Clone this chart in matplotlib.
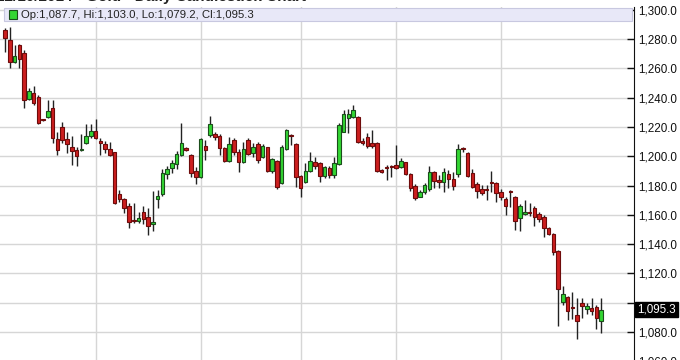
"""
Gold - grafico diario de velas
"""

import matplotlib
matplotlib.use('Agg')
import matplotlib.pyplot as plt
from matplotlib.patches import Rectangle
from matplotlib.ticker import FuncFormatter, MultipleLocator

plt.rcParams['font.family'] = ['Liberation Sans', 'DejaVu Sans']

# Datos OHLC
opens = [1286.3, 1279.5, 1264.3, 1276.0, 1270.4, 1239.0, 1243.1, 1240.4, 1225.0, 1226.7,
         1232.8, 1211.8, 1219.8, 1211.8, 1206.2, 1204.3, 1204.3, 1208.9, 1213.9, 1217.1,
         1210.3, 1208.4, 1204.8, 1202.8, 1174.3, 1170.7, 1166.1, 1155.8, 1156.0, 1161.8,
         1158.3, 1153.8, 1170.7, 1174.1, 1187.8, 1191.9, 1194.5, 1200.9, 1205.9, 1200.9,
         1190.0, 1185.7, 1207.1, 1214.6, 1215.0, 1214.1, 1205.5, 1197.0, 1211.2, 1202.8,
         1196.0, 1211.2, 1202.0, 1208.4, 1199.3, 1206.2, 1190.1, 1197.0, 1181.5, 1205.0,
         1214.3, 1208.4, 1186.8, 1182.3, 1190.0, 1196.4, 1195.3, 1186.8, 1191.9, 1187.3,
         1194.5, 1216.9, 1226.0, 1227.1, 1226.7, 1210.5, 1213.0, 1209.3, 1208.9, 1190.7,
         1192.4, 1193.1, 1194.0, 1193.0, 1196.0, 1188.0, 1179.8, 1172.5, 1175.9, 1177.7,
         1189.0, 1183.8, 1182.3, 1187.6, 1184.5, 1187.6, 1204.9, 1202.0, 1188.4, 1181.1,
         1177.7, 1177.1, 1182.1, 1182.0, 1175.5, 1170.7, 1176.1, 1172.5, 1157.7, 1160.6,
         1161.6, 1165.0, 1160.4, 1158.8, 1150.8, 1147.0, 1135.3, 1100.7, 1103.7, 1096.3,
         1091.6, 1099.6, 1095.7, 1096.6, 1097.3, 1087.7]
highs = [1287.5, 1288.2, 1276.0, 1276.8, 1272.7, 1246.5, 1248.0, 1241.9, 1225.3, 1238.5,
         1238.5, 1216.9, 1223.3, 1216.9, 1213.9, 1206.6, 1215.0, 1222.1, 1222.1, 1225.5,
         1212.3, 1210.5, 1210.0, 1203.2, 1177.0, 1171.8, 1168.4, 1168.4, 1162.2, 1166.1,
         1164.5, 1176.5, 1177.0, 1191.2, 1193.4, 1197.5, 1203.6, 1222.6, 1206.6, 1201.4,
         1192.9, 1212.3, 1211.2, 1227.6, 1216.9, 1215.0, 1206.6, 1213.4, 1212.8, 1205.0,
         1210.0, 1212.8, 1208.9, 1210.0, 1208.2, 1206.6, 1198.7, 1197.5, 1207.7, 1218.5,
         1215.0, 1208.9, 1187.3, 1195.3, 1202.8, 1199.8, 1196.4, 1193.4, 1193.4, 1199.8,
         1222.6, 1231.7, 1232.4, 1235.1, 1227.8, 1212.8, 1215.7, 1218.0, 1210.0, 1191.2,
         1194.0, 1194.0, 1207.7, 1198.7, 1196.4, 1188.4, 1180.9, 1177.0, 1181.6, 1193.6,
         1190.0, 1187.3, 1192.3, 1190.7, 1189.5, 1208.2, 1206.6, 1203.2, 1191.2, 1182.7,
         1180.4, 1180.4, 1190.0, 1182.7, 1177.7, 1172.4, 1177.0, 1173.1, 1167.2, 1170.2,
         1167.9, 1166.3, 1161.8, 1159.9, 1151.5, 1147.9, 1135.9, 1111.4, 1104.8, 1107.5,
         1103.0, 1103.4, 1099.6, 1103.0, 1098.4, 1103.0]
lows = [1271.5, 1260.6, 1263.6, 1260.6, 1232.8, 1238.5, 1235.0, 1222.1, 1224.0, 1226.0,
        1208.9, 1200.9, 1208.9, 1202.0, 1194.0, 1193.6, 1203.9, 1208.4, 1212.3, 1211.8,
        1200.9, 1202.0, 1200.2, 1167.5, 1169.0, 1161.1, 1150.8, 1154.2, 1154.2, 1153.8,
        1146.3, 1149.2, 1164.5, 1172.9, 1184.3, 1188.8, 1191.2, 1200.2, 1203.9, 1185.7,
        1181.1, 1185.0, 1197.5, 1213.4, 1211.2, 1200.9, 1196.4, 1196.4, 1200.9, 1189.0,
        1195.3, 1200.9, 1199.8, 1195.3, 1198.7, 1189.5, 1188.4, 1177.7, 1181.1, 1204.3,
        1207.7, 1179.3, 1172.4, 1181.6, 1189.5, 1191.4, 1182.3, 1185.0, 1185.4, 1185.4,
        1194.0, 1216.4, 1215.7, 1226.4, 1208.9, 1207.7, 1205.9, 1205.9, 1189.0, 1188.4,
        1183.8, 1186.1, 1191.4, 1191.9, 1187.3, 1176.5, 1170.2, 1172.0, 1174.3, 1176.5,
        1178.6, 1178.6, 1175.5, 1178.2, 1177.0, 1186.1, 1203.2, 1186.1, 1178.2, 1171.3,
        1173.6, 1170.2, 1175.9, 1169.0, 1170.2, 1159.9, 1165.6, 1149.7, 1149.2, 1159.9,
        1159.5, 1152.7, 1154.9, 1145.1, 1146.3, 1132.6, 1084.3, 1098.4, 1088.2, 1088.9,
        1075.2, 1089.4, 1092.0, 1091.6, 1082.0, 1079.2]
closes = [1280.7, 1264.3, 1268.6, 1266.3, 1238.5, 1244.9, 1236.2, 1223.0, 1224.6, 1231.0,
          1212.3, 1204.3, 1211.2, 1208.2, 1203.9, 1200.4, 1205.2, 1213.9, 1217.1, 1212.3,
          1208.9, 1204.8, 1200.7, 1168.4, 1171.1, 1164.5, 1154.9, 1155.6, 1157.6, 1157.0,
          1152.4, 1155.3, 1172.9, 1188.4, 1191.2, 1195.7, 1201.4, 1208.9, 1204.3, 1188.4,
          1186.1, 1211.8, 1204.3, 1221.9, 1213.4, 1205.9, 1197.0, 1208.2, 1202.8, 1196.0,
          1204.8, 1201.6, 1206.6, 1197.5, 1207.1, 1190.1, 1198.2, 1178.9, 1206.6, 1218.0,
          1214.0, 1185.7, 1178.2, 1190.0, 1197.0, 1193.4, 1186.6, 1192.6, 1187.3, 1195.7,
          1221.4, 1228.9, 1228.7, 1231.7, 1210.0, 1209.3, 1207.3, 1207.3, 1190.0, 1189.0,
          1192.2, 1192.9, 1192.3, 1197.0, 1188.0, 1178.2, 1171.3, 1175.9, 1180.4, 1189.5,
          1183.2, 1182.3, 1189.0, 1184.3, 1180.0, 1204.8, 1204.7, 1186.8, 1179.3, 1176.5,
          1174.8, 1176.9, 1181.9, 1174.8, 1172.5, 1166.3, 1175.9, 1155.8, 1166.3, 1162.2,
          1161.4, 1158.7, 1157.2, 1150.8, 1147.0, 1134.4, 1109.2, 1105.8, 1094.4, 1096.1,
          1087.5, 1098.0, 1098.0, 1094.5, 1089.8, 1095.3]

# primer dia de cada mes (indice de vela) -> lineas verticales
month_starts = [19, 41, 62, 82, 104]

title = "12/10/2014 - Gold - Daily Candlestick Chart"
legend_text = "Op:1,087.7, Hi:1,103.0, Lo:1,079.2, Cl:1,095.3"
last_label = "1,095.3"
hidden_tick = 1100  # tapado por la etiqueta del ultimo precio

RED = '#cc1f1f'
RED_EDGE = '#6e0b0b'
GREEN = '#33d633'
GREEN_EDGE = '#1b4d1b'

fig = plt.figure(figsize=(6.8, 3.6), dpi=100)
# el eje baja un poco por debajo de la figura para que 1,060.0 salga cortado
ax = fig.add_axes([0, -10 / 360, 634 / 680, 363 / 360])

ax.set_ylim(1054.07, 1302.0)
ax.set_xlim(-1.05, 131.9)

# rejilla
ax.yaxis.set_major_locator(MultipleLocator(20))
ax.grid(axis='y', color='#d6d6d6', linewidth=1.0)
for m in month_starts:
    ax.axvline(m, color='#d6d6d6', linewidth=1.0, zorder=0)
ax.set_axisbelow(True)

# velas
for i, (o, h, l, c) in enumerate(zip(opens, highs, lows, closes)):
    up = c >= o
    ax.vlines(i, l, h, color='#222222', linewidth=1.0, zorder=2)
    bottom = min(o, c)
    height = max(abs(c - o), 0.7)
    ax.add_patch(Rectangle((i - 0.37, bottom), 0.74, height,
                           facecolor=GREEN if up else RED,
                           edgecolor=GREEN_EDGE if up else RED_EDGE,
                           linewidth=0.8, zorder=3))

# eje derecho
def fmt(v, p):
    if abs(v - hidden_tick) < 0.01:
        return ''
    return f"{v:,.1f}"

ax.yaxis.tick_right()
ax.yaxis.set_major_formatter(FuncFormatter(fmt))
ax.tick_params(axis='y', direction='in', length=5, width=1, pad=3,
               labelsize=8.4, colors='#111111', right=True, left=False)
ax.tick_params(axis='x', bottom=False, labelbottom=False)
for s in ['left', 'top', 'bottom']:
    ax.spines[s].set_visible(False)
ax.spines['right'].set_color('#111111')

# etiqueta del ultimo precio
ax.text(1.005, closes[-1], last_label, transform=ax.get_yaxis_transform(),
        ha='left', va='center', fontsize=8.4, color='white',
        bbox=dict(boxstyle='square,pad=0.15', facecolor='black', edgecolor='black'))

# cuadro de leyenda
fig.patches.append(Rectangle((4 / 680, 1 - 21 / 360), 628 / 680, 13 / 360,
                             transform=fig.transFigure, facecolor='#e8e8f8',
                             edgecolor='#c8c8e0', linewidth=0.8, zorder=5))
fig.patches.append(Rectangle((9 / 680, 1 - 18.5 / 360), 8 / 680, 8 / 360,
                             transform=fig.transFigure, facecolor=GREEN,
                             edgecolor=GREEN_EDGE, linewidth=0.8, zorder=6))
fig.text(21 / 680, 1 - 14.5 / 360, legend_text, ha='left', va='center',
         fontsize=8.2, color='#222222', zorder=7)

# titulo (cortado arriba)
fig.text(-4 / 680, 1 + 3 / 360, title, ha='left', va='center',
         fontsize=11, fontweight='bold', color='#222222')

fig.savefig('out.png', dpi=100)
